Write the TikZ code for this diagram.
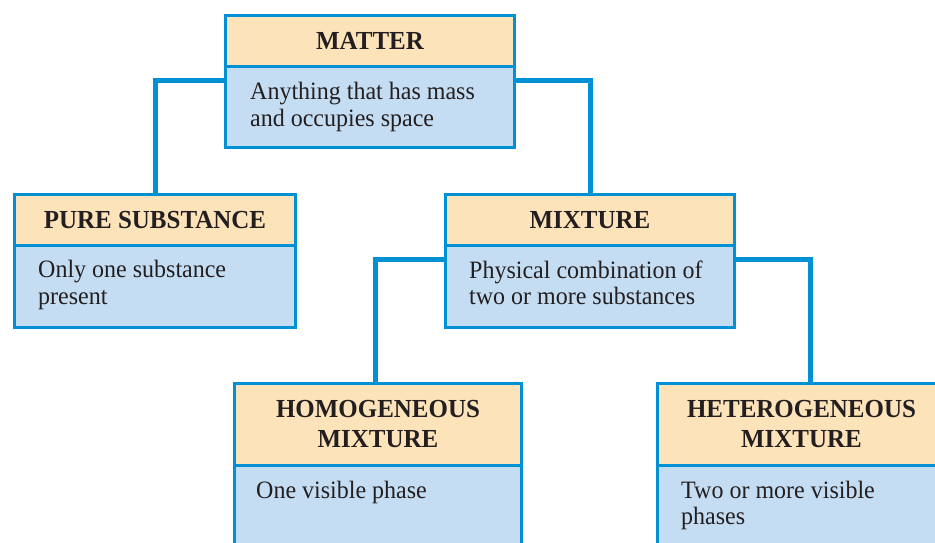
\documentclass[tikz,border=0pt]{standalone}
\usepackage{fontspec}
\setmainfont{Liberation Serif}[FakeStretch=0.96]
\definecolor{lineblue}{RGB}{0,144,212}
\definecolor{hdrfill}{RGB}{253,227,185}
\definecolor{bodyfill}{RGB}{197,221,242}
\definecolor{ink}{RGB}{35,31,32}
\begin{document}
\begin{tikzpicture}[x=1pt,y=-1pt,
  hdr/.style={draw=lineblue, line width=3pt, fill=hdrfill, rectangle, inner sep=0pt, anchor=north west,
    text=ink, font=\fontsize{26}{30}\selectfont\bfseries, align=center, minimum height=51pt},
  bodybox/.style={draw=lineblue, line width=3pt, fill=bodyfill, rectangle, inner sep=0pt, anchor=north west},
  btext/.style={text=ink, font=\fontsize{25}{26.5}\selectfont, align=left, inner sep=0pt, anchor=base west},
  conn/.style={draw=lineblue, line width=5pt}]
\path[use as bounding box] (0,0) rectangle (935,542);
\path[clip] (0,0) rectangle (935,542);
% MATTER
\node[bodybox, minimum width=289pt, minimum height=81pt] (matterB) at (224,65) {};
\node[hdr, minimum width=289pt] (matterH) at (224,14) {MATTER};
\node[btext] (matterT) at (250,126) {Anything that has mass\\and occupies space};
% PURE SUBSTANCE
\node[bodybox, minimum width=281pt, minimum height=82pt] (pureB) at (13,244) {};
\node[hdr, minimum width=281pt] (pureH) at (13,193) {PURE SUBSTANCE};
\node[btext] (pureT) at (38,304) {Only one substance\\present};
% MIXTURE
\node[bodybox, minimum width=289pt, minimum height=82pt] (mixB) at (444,244) {};
\node[hdr, minimum width=289pt] (mixH) at (444,193) {MIXTURE};
\node[btext] (mixT) at (469,304.5) {Physical combination of\\two or more substances};
% HOMOGENEOUS
\node[bodybox, minimum width=287pt, minimum height=110pt] (homoB) at (233,464) {};
\node[hdr, minimum width=287pt, minimum height=82pt] (homoH) at (233,382) {HOMOGENEOUS\\MIXTURE};
\node[btext] (homoT) at (256,498) {One visible phase};
% HETEROGENEOUS
\node[bodybox, minimum width=288pt, minimum height=110pt] (hetB) at (656,464) {};
\node[hdr, minimum width=288pt, minimum height=82pt] (hetH) at (656,382) {HETEROGENEOUS\\MIXTURE};
\node[btext] (hetT) at (681,524.5) {Two or more visible\\phases};
% connectors
\draw[conn] ([yshift=-15pt]matterB.north west) -| (pureH.north);
\draw[conn] ([yshift=-15pt]matterB.north east) -| (mixH.north);
\draw[conn] ([yshift=-15.5pt]mixB.north west) -| ([xshift=-2.5pt]homoH.north);
\draw[conn] ([yshift=-15.5pt]mixB.north east) -| ([xshift=9pt]hetH.north);
\end{tikzpicture}
\end{document}
